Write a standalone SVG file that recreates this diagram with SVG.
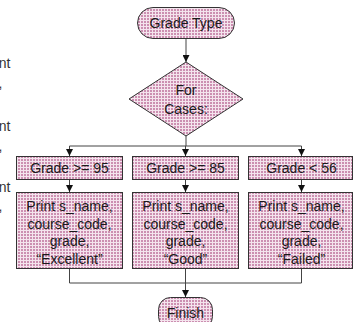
<svg xmlns="http://www.w3.org/2000/svg" width="354" height="322" viewBox="0 0 354 322">
  <defs>
    <!-- pink grid fill used by every shape -->
    <pattern id="grid" width="3" height="3" patternUnits="userSpaceOnUse">
      <rect width="3" height="3" fill="#f4e4ed"/>
      <rect width="2" height="2" fill="#cc8fb1"/>
    </pattern>
    <marker id="arrow" viewBox="0 0 10 10" refX="10" refY="5" markerWidth="8" markerHeight="7" markerUnits="userSpaceOnUse" orient="auto">
      <path d="M0,0 L10,5 L0,10 Z" fill="#111"/>
    </marker>
  </defs>
  <style>
    .shape { fill: url(#grid); stroke: #333; stroke-width: 1; }
    .label { font-family: "Liberation Sans", Arial, sans-serif; font-size: 14px; fill: #1a1a1a; text-anchor: middle; }
    .edge { font-family: "Liberation Sans", Arial, sans-serif; font-size: 14px; fill: #333; text-anchor: end; }
    .wire { fill: none; stroke: #444; stroke-width: 1; }
    .head { marker-end: url(#arrow); }
  </style>

  <rect width="354" height="322" fill="#ffffff"/>

  <!-- text fragments at the left edge -->
  <g id="margin-text">
    <text class="edge" x="10.5" y="68">nt</text>
    <text class="edge" x="2.5" y="88">,</text>
    <text class="edge" x="10.5" y="131">nt</text>
    <text class="edge" x="2.5" y="151">,</text>
    <text class="edge" x="10.5" y="192">nt</text>
    <text class="edge" x="2.5" y="211">,</text>
  </g>

  <g id="connectors">
    <line class="wire head" x1="186" y1="39" x2="186" y2="62"/>
    <polyline class="wire" points="186,136 186,146"/>
    <line class="wire" x1="69.5" y1="146" x2="301.5" y2="146"/>
    <line class="wire head" x1="69.5" y1="146" x2="69.5" y2="156"/>
    <line class="wire head" x1="185.5" y1="146" x2="185.5" y2="156"/>
    <line class="wire head" x1="301.5" y1="146" x2="301.5" y2="156"/>
    <line class="wire head" x1="69.5" y1="180" x2="69.5" y2="192"/>
    <line class="wire head" x1="185.5" y1="180" x2="185.5" y2="192"/>
    <line class="wire head" x1="301.5" y1="180" x2="301.5" y2="192"/>
    <polyline class="wire" points="69.5,268 69.5,283 301.5,283 301.5,268"/>
    <line class="wire head" x1="185.5" y1="268" x2="185.5" y2="297"/>
  </g>

  <g id="start">
    <rect class="shape" x="137.5" y="7.5" width="97" height="31" rx="15.5" ry="15.5"/>
    <text class="label" x="186" y="28">Grade Type</text>
  </g>

  <g id="decision">
    <polygon class="shape" points="186,62 243,99 186,136 129,99"/>
    <text class="label" x="186" y="95">For</text>
    <text class="label" x="186" y="114">Cases:</text>
  </g>

  <g id="case-95">
    <rect class="shape" x="16.5" y="156.5" width="106" height="23"/>
    <text class="label" x="69.5" y="173">Grade &gt;= 95</text>
  </g>
  <g id="case-85">
    <rect class="shape" x="132.5" y="156.5" width="106" height="23"/>
    <text class="label" x="185.5" y="173">Grade &gt;= 85</text>
  </g>
  <g id="case-56">
    <rect class="shape" x="248.5" y="156.5" width="104" height="23"/>
    <text class="label" x="301.5" y="173">Grade &lt; 56</text>
  </g>

  <g id="print-excellent">
    <rect class="shape" x="16.5" y="192.5" width="106" height="76"/>
    <text class="label" x="69.5" y="211">Print s_name,</text>
    <text class="label" x="69.5" y="228.5">course_code,</text>
    <text class="label" x="69.5" y="246">grade,</text>
    <text class="label" x="69.5" y="263.5">“Excellent”</text>
  </g>
  <g id="print-good">
    <rect class="shape" x="132.5" y="192.5" width="106" height="76"/>
    <text class="label" x="185.5" y="211">Print s_name,</text>
    <text class="label" x="185.5" y="228.5">course_code,</text>
    <text class="label" x="185.5" y="246">grade,</text>
    <text class="label" x="185.5" y="263.5">“Good”</text>
  </g>
  <g id="print-failed">
    <rect class="shape" x="248.5" y="192.5" width="104" height="76"/>
    <text class="label" x="301.5" y="211">Print s_name,</text>
    <text class="label" x="301.5" y="228.5">course_code,</text>
    <text class="label" x="301.5" y="246">grade,</text>
    <text class="label" x="301.5" y="263.5">“Failed”</text>
  </g>

  <g id="finish">
    <rect class="shape" x="158.5" y="297.5" width="54" height="31" rx="12" ry="12"/>
    <text class="label" x="185.5" y="318">Finish</text>
  </g>
</svg>
